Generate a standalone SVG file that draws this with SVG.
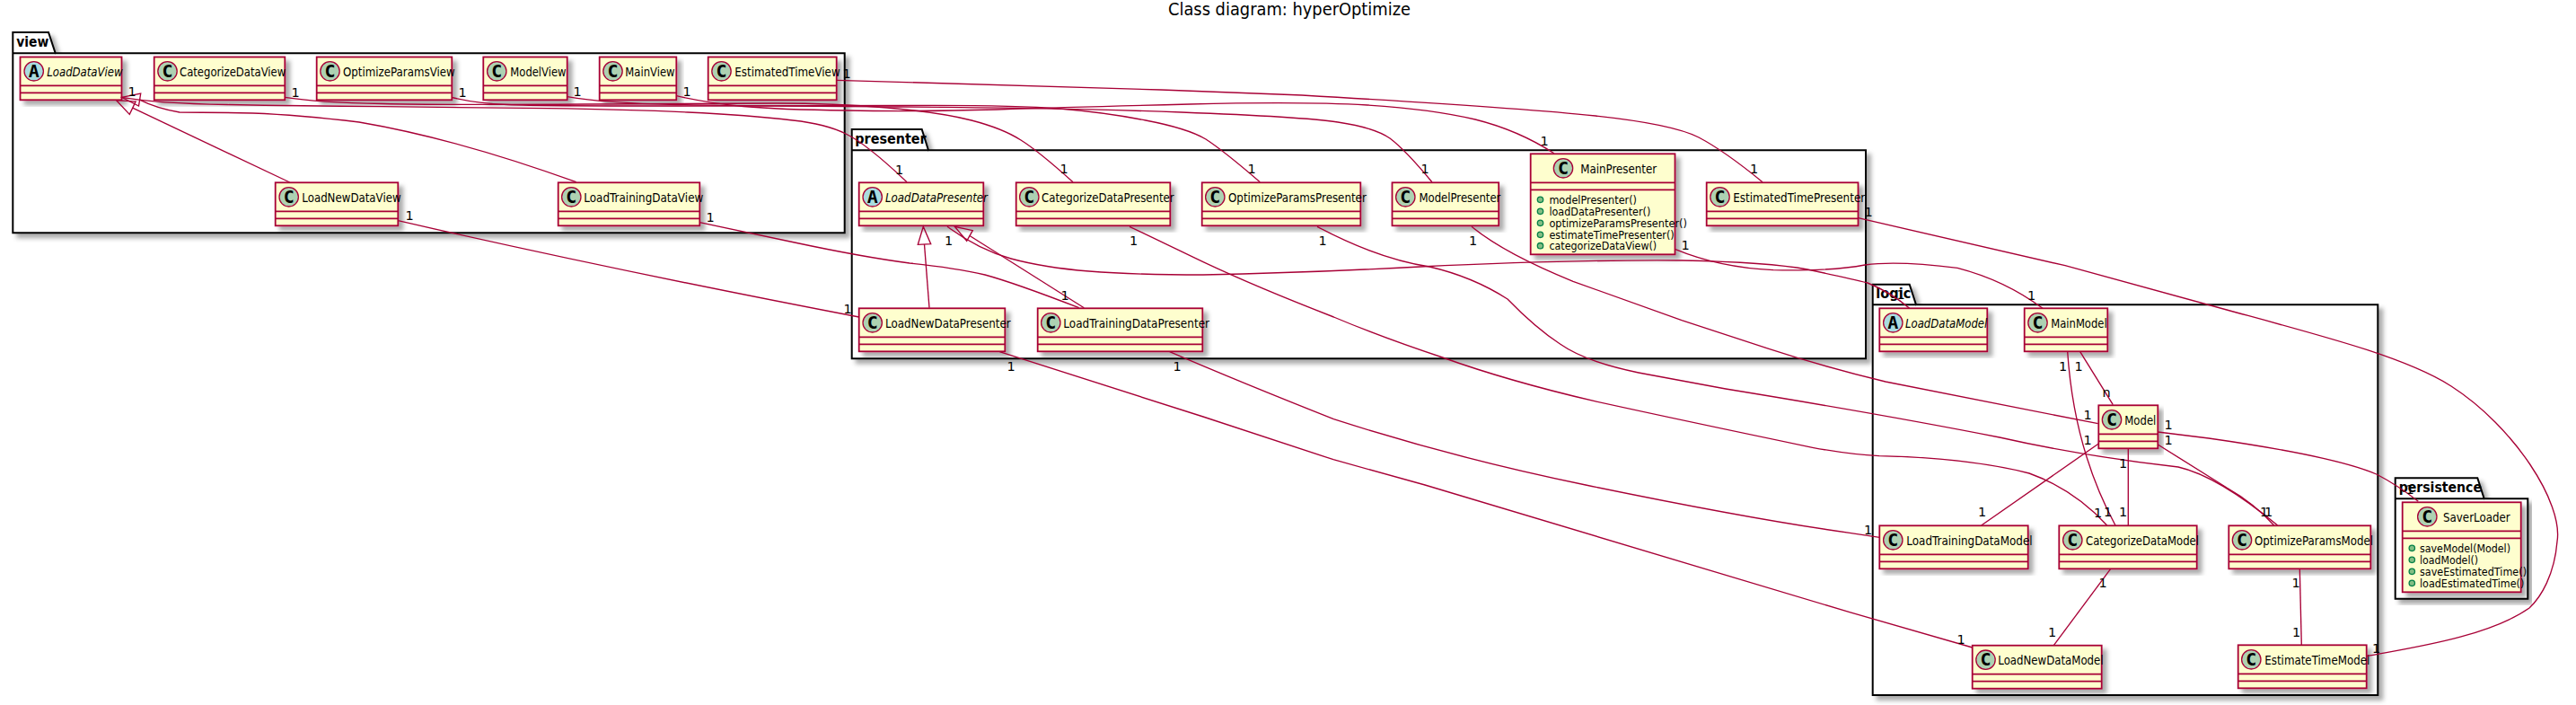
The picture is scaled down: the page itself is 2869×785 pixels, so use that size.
<svg xmlns="http://www.w3.org/2000/svg" width="2869" height="785" viewBox="0 0 2869 785">
<defs>
<filter id="sh" x="-10%" y="-10%" width="120%" height="125%"><feDropShadow dx="5" dy="5" stdDeviation="2.7" flood-color="#000" flood-opacity="0.33"/></filter>
<filter id="shp" x="-3%" y="-3%" width="106%" height="108%"><feDropShadow dx="5" dy="5" stdDeviation="2.7" flood-color="#000" flood-opacity="0.33"/></filter>
</defs>
<style>
text{font-family:"DejaVu Sans",sans-serif;fill:#000}
.title{font-size:19.5px}
.pk{fill:#fff;stroke:#000;stroke-width:2;filter:url(#shp)}
.pl{fill:none;stroke:#000;stroke-width:2}
.pn{font-size:16px;font-weight:bold}
.b{fill:#FEFECE;stroke:#A80036;stroke-width:1.8;filter:url(#sh)}
.d{stroke:#A80036;stroke-width:1.8;fill:none}
.c{fill:#ADD1B2;stroke:#A80036;stroke-width:1.3}
.a{fill:#A9DCDF;stroke:#A80036;stroke-width:1.3}
.g{font-family:"DejaVu Sans Mono",monospace;font-weight:bold;font-size:20px;text-anchor:middle}
.n{font-size:14.3px}
.i{font-style:italic}
.m{font-size:12.6px}
.mi{fill:#84BE84;stroke:#038048;stroke-width:1.3}
#connectors path{fill:none;stroke:#A80036;stroke-width:1.35}
#connectors polygon{fill:none;stroke:#A80036;stroke-width:1.35}
.l{font-size:14.5px;text-anchor:middle}
</style>
<rect width="2869" height="785" fill="#fff"/>
<text class="title" x="1301" y="17" textLength="270" lengthAdjust="spacingAndGlyphs">Class diagram: hyperOptimize</text>

<g id="pkg-view"><path class="pk" d="M14.3,36H54L61.7,59.3H940.7V259.3H14.3Z"/><path class="pl" d="M14.3,59.3H61.7"/><text class="pn" x="18.3" y="51.7" textLength="36" lengthAdjust="spacingAndGlyphs">view</text></g>
<g id="pkg-presenter"><path class="pk" d="M948.7,144H1026.7L1034,167.3H2078V399.3H948.7Z"/><path class="pl" d="M948.7,167.3H1034"/><text class="pn" x="952.3" y="160" textLength="79.3" lengthAdjust="spacingAndGlyphs">presenter</text></g>
<g id="pkg-logic"><path class="pk" d="M2085.7,316.7H2126.7L2134,339.3H2648.3V774H2085.7Z"/><path class="pl" d="M2085.7,339.3H2134"/><text class="pn" x="2089.3" y="331.7" textLength="39" lengthAdjust="spacingAndGlyphs">logic</text></g>
<g id="pkg-persistence"><path class="pk" d="M2667.7,532.3H2759.3L2766.7,555.3H2815.3V666.7H2667.7Z"/><path class="pl" d="M2667.7,555.3H2766.7"/><text class="pn" x="2671.7" y="548.3" textLength="92.3" lengthAdjust="spacingAndGlyphs">persistence</text></g>

<g id="LoadDataView"><rect class="b" x="22.5" y="63.5" width="113" height="47.8"/><path class="d" d="M22.5,95.3H135.5M22.5,103.3H135.5"/><circle class="a" cx="37.7" cy="79.3" r="10.7"/><text class="g" x="37.7" y="86">A</text><text class="n i" x="52.3" y="84.5" textLength="84.3" lengthAdjust="spacingAndGlyphs">LoadDataView</text></g>
<g id="CategorizeDataView"><rect class="b" x="171.7" y="63.5" width="145.6" height="47.8"/><path class="d" d="M171.7,95.3H317.3M171.7,103.3H317.3"/><circle class="c" cx="186.5" cy="79.3" r="10.7"/><text class="g" x="186.5" y="86">C</text><text class="n" x="200" y="84.5" textLength="118.3" lengthAdjust="spacingAndGlyphs">CategorizeDataView</text></g>
<g id="OptimizeParamsView"><rect class="b" x="352.7" y="63.5" width="150.6" height="47.8"/><path class="d" d="M352.7,95.3H503.3M352.7,103.3H503.3"/><circle class="c" cx="367.5" cy="79.3" r="10.7"/><text class="g" x="367.5" y="86">C</text><text class="n" x="382" y="84.5" textLength="124.7" lengthAdjust="spacingAndGlyphs">OptimizeParamsView</text></g>
<g id="ModelView"><rect class="b" x="538.3" y="63.5" width="93.4" height="47.8"/><path class="d" d="M538.3,95.3H631.7M538.3,103.3H631.7"/><circle class="c" cx="553.3" cy="79.3" r="10.7"/><text class="g" x="553.3" y="86">C</text><text class="n" x="568.3" y="84.5" textLength="62.3" lengthAdjust="spacingAndGlyphs">ModelView</text></g>
<g id="MainView"><rect class="b" x="667.7" y="63.5" width="85.6" height="47.8"/><path class="d" d="M667.7,95.3H753.3M667.7,103.3H753.3"/><circle class="c" cx="682.5" cy="79.3" r="10.7"/><text class="g" x="682.5" y="86">C</text><text class="n" x="696.3" y="84.5" textLength="55.3" lengthAdjust="spacingAndGlyphs">MainView</text></g>
<g id="EstimatedTimeView"><rect class="b" x="788.7" y="63.5" width="143" height="47.8"/><path class="d" d="M788.7,95.3H931.7M788.7,103.3H931.7"/><circle class="c" cx="803.5" cy="79.3" r="10.7"/><text class="g" x="803.5" y="86">C</text><text class="n" x="818.3" y="84.5" textLength="117.3" lengthAdjust="spacingAndGlyphs">EstimatedTimeView</text></g>
<g id="LoadNewDataView"><rect class="b" x="306.7" y="203.3" width="136.6" height="48"/><path class="d" d="M306.7,235.3H443.3M306.7,243.3H443.3"/><circle class="c" cx="321.7" cy="219.3" r="10.7"/><text class="g" x="321.7" y="226">C</text><text class="n" x="336.3" y="224.5" textLength="110.3" lengthAdjust="spacingAndGlyphs">LoadNewDataView</text></g>
<g id="LoadTrainingDataView"><rect class="b" x="621.7" y="203.3" width="157.6" height="48"/><path class="d" d="M621.7,235.3H779.3M621.7,243.3H779.3"/><circle class="c" cx="636.3" cy="219.3" r="10.7"/><text class="g" x="636.3" y="226">C</text><text class="n" x="650.3" y="224.5" textLength="133" lengthAdjust="spacingAndGlyphs">LoadTrainingDataView</text></g>

<g id="LoadDataPresenter"><rect class="b" x="956.7" y="203.3" width="138.6" height="48"/><path class="d" d="M956.7,235.3H1095.3M956.7,243.3H1095.3"/><circle class="a" cx="971.7" cy="219.3" r="10.7"/><text class="g" x="971.7" y="226">A</text><text class="n i" x="986" y="224.5" textLength="114" lengthAdjust="spacingAndGlyphs">LoadDataPresenter</text></g>
<g id="CategorizeDataPresenter"><rect class="b" x="1131.7" y="203.3" width="171.6" height="48"/><path class="d" d="M1131.7,235.3H1303.3M1131.7,243.3H1303.3"/><circle class="c" cx="1146.3" cy="219.3" r="10.7"/><text class="g" x="1146.3" y="226">C</text><text class="n" x="1160" y="224.5" textLength="147.7" lengthAdjust="spacingAndGlyphs">CategorizeDataPresenter</text></g>
<g id="OptimizeParamsPresenter"><rect class="b" x="1338.7" y="203.3" width="176.6" height="48"/><path class="d" d="M1338.7,235.3H1515.3M1338.7,243.3H1515.3"/><circle class="c" cx="1353.3" cy="219.3" r="10.7"/><text class="g" x="1353.3" y="226">C</text><text class="n" x="1368" y="224.5" textLength="153.8" lengthAdjust="spacingAndGlyphs">OptimizeParamsPresenter</text></g>
<g id="ModelPresenter"><rect class="b" x="1550.5" y="203.3" width="118.7" height="48"/><path class="d" d="M1550.5,235.3H1669.2M1550.5,243.3H1669.2"/><circle class="c" cx="1565.3" cy="219.3" r="10.7"/><text class="g" x="1565.3" y="226">C</text><text class="n" x="1580.4" y="224.5" textLength="91" lengthAdjust="spacingAndGlyphs">ModelPresenter</text></g>
<g id="MainPresenter"><rect class="b" x="1704.7" y="171.3" width="160.8" height="112"/><path class="d" d="M1704.7,203.3H1865.5M1704.7,211.3H1865.5"/><circle class="c" cx="1741" cy="187.3" r="10.7"/><text class="g" x="1741" y="194">C</text><text class="n" x="1760.2" y="192.5" textLength="85" lengthAdjust="spacingAndGlyphs">MainPresenter</text>
<circle class="mi" cx="1715.5" cy="222.3" r="3.2"/><text class="m" x="1725.4" y="226.8" textLength="97.6" lengthAdjust="spacingAndGlyphs">modelPresenter()</text>
<circle class="mi" cx="1715.5" cy="235.3" r="3.2"/><text class="m" x="1725.4" y="239.8" textLength="112.9" lengthAdjust="spacingAndGlyphs">loadDataPresenter()</text>
<circle class="mi" cx="1715.5" cy="248.3" r="3.2"/><text class="m" x="1725.4" y="252.8" textLength="153.5" lengthAdjust="spacingAndGlyphs">optimizeParamsPresenter()</text>
<circle class="mi" cx="1715.5" cy="261.3" r="3.2"/><text class="m" x="1725.4" y="265.8" textLength="139.3" lengthAdjust="spacingAndGlyphs">estimateTimePresenter()</text>
<circle class="mi" cx="1715.5" cy="273.7" r="3.2"/><text class="m" x="1725.4" y="278.2" textLength="119.8" lengthAdjust="spacingAndGlyphs">categorizeDataView()</text></g>
<g id="EstimatedTimePresenter"><rect class="b" x="1900.7" y="203.3" width="168.8" height="48"/><path class="d" d="M1900.7,235.3H2069.5M1900.7,243.3H2069.5"/><circle class="c" cx="1915.5" cy="219.3" r="10.7"/><text class="g" x="1915.5" y="226">C</text><text class="n" x="1930.2" y="224.5" textLength="147" lengthAdjust="spacingAndGlyphs">EstimatedTimePresenter</text></g>
<g id="LoadNewDataPresenter"><rect class="b" x="956.7" y="343.3" width="162.6" height="48"/><path class="d" d="M956.7,375.3H1119.3M956.7,383.3H1119.3"/><circle class="c" cx="971.7" cy="359.3" r="10.7"/><text class="g" x="971.7" y="366">C</text><text class="n" x="986" y="364.5" textLength="139.7" lengthAdjust="spacingAndGlyphs">LoadNewDataPresenter</text></g>
<g id="LoadTrainingDataPresenter"><rect class="b" x="1155.7" y="343.3" width="183.6" height="48"/><path class="d" d="M1155.7,375.3H1339.3M1155.7,383.3H1339.3"/><circle class="c" cx="1170.3" cy="359.3" r="10.7"/><text class="g" x="1170.3" y="366">C</text><text class="n" x="1184.3" y="364.5" textLength="162.7" lengthAdjust="spacingAndGlyphs">LoadTrainingDataPresenter</text></g>

<g id="LoadDataModel"><rect class="b" x="2093.3" y="343.3" width="120" height="48"/><path class="d" d="M2093.3,375.3H2213.3M2093.3,383.3H2213.3"/><circle class="a" cx="2108.3" cy="359.3" r="10.7"/><text class="g" x="2108.3" y="366">A</text><text class="n i" x="2122" y="364.5" textLength="91.3" lengthAdjust="spacingAndGlyphs">LoadDataModel</text></g>
<g id="MainModel"><rect class="b" x="2254.7" y="343.3" width="92.6" height="48"/><path class="d" d="M2254.7,375.3H2347.3M2254.7,383.3H2347.3"/><circle class="c" cx="2269.5" cy="359.3" r="10.7"/><text class="g" x="2269.5" y="366">C</text><text class="n" x="2284.3" y="364.5" textLength="62.3" lengthAdjust="spacingAndGlyphs">MainModel</text></g>
<g id="Model"><rect class="b" x="2337.3" y="451.3" width="66" height="48"/><path class="d" d="M2337.3,483.3H2403.3M2337.3,491.3H2403.3"/><circle class="c" cx="2352" cy="467.3" r="10.7"/><text class="g" x="2352" y="474">C</text><text class="n" x="2366.3" y="472.5" textLength="35" lengthAdjust="spacingAndGlyphs">Model</text></g>
<g id="LoadTrainingDataModel"><rect class="b" x="2093.3" y="585.3" width="165.4" height="48"/><path class="d" d="M2093.3,617.3H2258.7M2093.3,625.3H2258.7"/><circle class="c" cx="2108.3" cy="601.3" r="10.7"/><text class="g" x="2108.3" y="608">C</text><text class="n" x="2123.3" y="606.5" textLength="140.3" lengthAdjust="spacingAndGlyphs">LoadTrainingDataModel</text></g>
<g id="CategorizeDataModel"><rect class="b" x="2293.3" y="585.3" width="153.4" height="48"/><path class="d" d="M2293.3,617.3H2446.7M2293.3,625.3H2446.7"/><circle class="c" cx="2308.3" cy="601.3" r="10.7"/><text class="g" x="2308.3" y="608">C</text><text class="n" x="2323" y="606.5" textLength="126" lengthAdjust="spacingAndGlyphs">CategorizeDataModel</text></g>
<g id="OptimizeParamsModel"><rect class="b" x="2482.3" y="585.3" width="158" height="48"/><path class="d" d="M2482.3,617.3H2640.3M2482.3,625.3H2640.3"/><circle class="c" cx="2497" cy="601.3" r="10.7"/><text class="g" x="2497" y="608">C</text><text class="n" x="2511" y="606.5" textLength="132" lengthAdjust="spacingAndGlyphs">OptimizeParamsModel</text></g>
<g id="LoadNewDataModel"><rect class="b" x="2196.7" y="718.7" width="144" height="48"/><path class="d" d="M2196.7,750.7H2340.7M2196.7,758.7H2340.7"/><circle class="c" cx="2211.5" cy="734.7" r="10.7"/><text class="g" x="2211.5" y="741.4">C</text><text class="n" x="2225.3" y="739.9" textLength="117.3" lengthAdjust="spacingAndGlyphs">LoadNewDataModel</text></g>
<g id="EstimateTimeModel"><rect class="b" x="2492.7" y="718.3" width="143" height="48"/><path class="d" d="M2492.7,750.3H2635.7M2492.7,758.3H2635.7"/><circle class="c" cx="2507.3" cy="734.3" r="10.7"/><text class="g" x="2507.3" y="741">C</text><text class="n" x="2522.3" y="739.5" textLength="117" lengthAdjust="spacingAndGlyphs">EstimateTimeModel</text></g>

<g id="SaverLoader"><rect class="b" x="2675.7" y="559.3" width="132" height="100"/><path class="d" d="M2675.7,591.3H2807.7M2675.7,599.3H2807.7"/><circle class="c" cx="2703.3" cy="575.3" r="10.7"/><text class="g" x="2703.3" y="582">C</text><text class="n" x="2721" y="580.5" textLength="74.7" lengthAdjust="spacingAndGlyphs">SaverLoader</text>
<circle class="mi" cx="2686.3" cy="610.3" r="3.2"/><text class="m" x="2695" y="614.8" textLength="101" lengthAdjust="spacingAndGlyphs">saveModel(Model)</text>
<circle class="mi" cx="2686.3" cy="623.3" r="3.2"/><text class="m" x="2695" y="627.8" textLength="65" lengthAdjust="spacingAndGlyphs">loadModel()</text>
<circle class="mi" cx="2686.3" cy="636.3" r="3.2"/><text class="m" x="2695" y="640.8" textLength="119" lengthAdjust="spacingAndGlyphs">saveEstimatedTime()</text>
<circle class="mi" cx="2686.3" cy="649.3" r="3.2"/><text class="m" x="2695" y="653.8" textLength="116.3" lengthAdjust="spacingAndGlyphs">loadEstimatedTime()</text></g>

<g id="connectors">
<path d="M322.7,203L147.7,120.2"/><polygon points="129.6,111.7 151.1,113 144.3,127.4"/>
<path d="M641.7,202.7C590,184 500,153 400,136Q333,128 281.5,126Q230,125 200,125Q175,121 155.5,111.2"/><polygon points="135.5,108.3 156.7,104 154.5,118"/>
<path d="M135.5,108.3Q173,115 253,116.5Q333,118 426,118.7Q520,119.5 610,120.7Q700,122 766,125Q833,128 883,134Q920,138 942,149Q965,160 1010,202.7"/>
<path d="M317.3,108.3Q353,114 426,115.5Q500,117 650,116Q800,115 865,115Q930,115 988,120Q1046.7,125 1082,134Q1116.7,143 1137,156Q1156.7,168.3 1195,202.7"/>
<path d="M503.3,108.5Q530,115 565,116.5Q600,118 750,118Q900,118 1015,117.5Q1130,117 1180,121Q1230,125 1276,134Q1323,143 1343,155Q1363,168 1403.3,202.7"/>
<path d="M631.7,107.7Q673,115 753,116.5Q833,118 1000,119Q1183,120 1316,125Q1450,130 1490,136Q1530.6,142 1548,154Q1565,166.7 1594.9,202.7"/>
<path d="M753.3,106.7Q790,115 828,118.5Q867,122 943,123Q1020,124.5 1110,122Q1200,119 1325,116Q1450,112.7 1523,117Q1595.7,121.7 1643,133Q1691,145 1730.8,170.7"/>
<path d="M931.7,89.3L1293,100L1450,106Q1691,120 1777,129Q1863.6,138.3 1892,153Q1921,168.3 1963,202.7"/>
<path d="M443.3,245.7Q680,300 956.7,353"/>
<path d="M779.3,247.7L885,270Q960,286 1013,293Q1063,298 1097,306Q1130,315 1201.7,342.7"/>
<path d="M1035,342.7L1029.5,272"/><polygon points="1028.3,252.3 1022.3,272.3 1036.7,271.7"/>
<path d="M1207.3,342.7L1080,262.5"/><polygon points="1063.3,252.3 1076.7,268.3 1083.3,256.7"/>
<path d="M1055,252.3Q1090,278 1126,288Q1163,298 1213,302Q1263,306 1340,306Q1450,304 1582,297Q1752,289 1873,290Q1970,292 2013,300Q2060,310 2080,315Q2105,325 2126.7,343.3"/>
<path d="M1866,277.7Q1915,298 1975,300.7Q2040,302 2077,295Q2113,290 2180,298.3Q2233,312 2275,343.3"/>
<path d="M1258,252.3L1340,291.7Q1400,320 1485.4,353Q1540,376 1606.6,398Q1679,424 1776,446.7Q1873,468 2018.6,498.3Q2060,506 2093,507.7Q2193,510 2260,527Q2310,545 2346.7,585"/>
<path d="M1467,252.3Q1534,288 1592,297Q1640,308 1679,333Q1710,365 1737.5,383Q1766,403 1825,415L1922,433Q2100,462 2227,487Q2320,508 2426,520Q2470,530 2536.7,585"/>
<path d="M1639,252.3Q1675,282 1752,313.3L1873,356.7L1970,388.3Q2030,408 2100,425L2336.7,471.7"/>
<path d="M2069.5,242.7L2300,295.7L2480,345C2590,375 2680,398 2730,430C2800,475 2855,560 2848,603C2845,640 2830,665 2817,677C2770,710 2680,722 2635.7,730.7"/>
<path d="M1113.3,391.7L1340,464L1485,511.7L1587,540L2060,681.7L2196.7,721"/>
<path d="M1302.7,391.7Q1380,425 1485.4,466.7Q1620,510 1766,540Q1950,578 2060,593.3L2093.3,598.3"/>
<path d="M2316.7,391.7L2353.3,450.7"/>
<path d="M2302.7,391.7Q2310,500 2356,585"/>
<path d="M2337.3,494L2206.7,585"/>
<path d="M2370.3,499.3V585"/>
<path d="M2403.3,495L2480,543Q2510,560 2532.7,585"/>
<path d="M2403.3,481L2460,488Q2600,508 2646.7,528Q2670,540 2693.3,558.3"/>
<path d="M2350.7,633.3L2287.3,718.7"/>
<path d="M2561.3,633.3L2563.3,718.3"/>
</g>

<g id="labels" class="l">
<text x="147" y="107">1</text><text x="1001.7" y="194">1</text>
<text x="329" y="108">1</text><text x="1185" y="193">1</text>
<text x="515" y="108">1</text><text x="1394" y="193">1</text>
<text x="643" y="107">1</text><text x="1587" y="193">1</text>
<text x="765" y="107">1</text><text x="1720" y="162">1</text>
<text x="943" y="87">1</text><text x="1953.5" y="193">1</text>
<text x="456" y="245">1</text><text x="944" y="349">1</text>
<text x="791" y="247">1</text><text x="1186" y="334">1</text>
<text x="1056.7" y="273">1</text><text x="2117" y="333">1</text>
<text x="1877" y="278">1</text><text x="2262.7" y="334">1</text>
<text x="1262.7" y="273">1</text><text x="2336.7" y="576">1</text>
<text x="1473" y="273">1</text><text x="2526.7" y="575">1</text>
<text x="1640.5" y="273">1</text><text x="2325" y="467">1</text>
<text x="2081" y="241">1</text><text x="2646.7" y="727">1</text>
<text x="1126" y="413">1</text><text x="2184" y="717">1</text>
<text x="1311" y="413">1</text><text x="2080.7" y="595">1</text>
<text x="2315" y="413">1</text><text x="2346" y="442">n</text>
<text x="2297.7" y="413">1</text><text x="2347.7" y="575">1</text>
<text x="2325" y="495">1</text><text x="2207.7" y="575">1</text>
<text x="2364.7" y="521">1</text><text x="2364.7" y="575">1</text>
<text x="2415" y="495">1</text><text x="2521.7" y="575">1</text>
<text x="2415" y="478">1</text><text x="2684" y="550">1</text>
<text x="2342" y="654">1</text><text x="2285.7" y="709">1</text>
<text x="2557" y="654">1</text><text x="2557.7" y="709">1</text>
</g>
</svg>
